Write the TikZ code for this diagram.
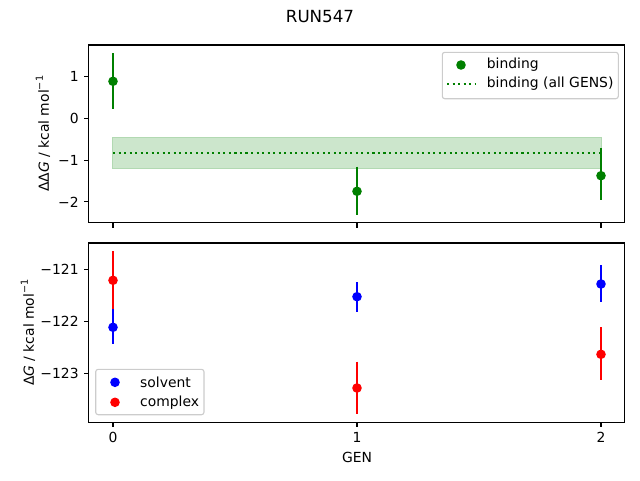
\documentclass[tikz,border=0pt]{standalone}
\usepackage{fontspec}
\setmainfont{DejaVu Sans}
\definecolor{mgreen}{RGB}{0,128,0}
\definecolor{mblue}{RGB}{0,0,255}
\definecolor{mred}{RGB}{255,0,0}
\definecolor{bandfill}{RGB}{204,230,204}
\definecolor{bandedge}{RGB}{178,217,178}
\definecolor{legedge}{RGB}{204,204,204}
\newcommand{\supmo}{\raisebox{0.42em}{\fontsize{9.7}{10}\selectfont −1}}
\tikzset{
  axframe/.style={line width=1.1pt, black},
  tickmark/.style={line width=1.1pt, black},
  ebar/.style={line width=2.08pt},
  dotmark/.style={circle, inner sep=0pt, minimum size=9.6pt},
  ylab/.style={anchor=east, inner sep=0pt},
  xlab/.style={anchor=north, inner sep=0pt},
  legbox/.style={fill=white, fill opacity=0.8, draw=legedge, draw opacity=1, line width=1.1pt, rounded corners=2.5pt},
  legtext/.style={anchor=west, inner sep=0pt},
}
\begin{document}
\begin{tikzpicture}[x=1pt, y=-1pt, font=\fontsize{13.9}{16}\selectfont]
\useasboundingbox (0,0) rectangle (640,480);

% title
\node[inner sep=0pt, font=\fontsize{16.7}{19}\selectfont] (title) at (320,17) {RUN547};

% ================= top axes =================
\fill[bandfill, draw=bandedge, line width=1pt] (112.7,137.3) rectangle (601.3,168.7);
\coordinate (m0) at (113,152.7);
\coordinate (m1) at (601,152.7);
\draw[mgreen, line width=2.08pt, dash pattern=on 2.08pt off 3.44pt] (m0) -- (m1);

\coordinate (g0t) at (113,53.3);  \coordinate (g0b) at (113,108.7);
\coordinate (g1t) at (357,166.7); \coordinate (g1b) at (357,214.7);
\coordinate (g2t) at (601,148.3); \coordinate (g2b) at (601,200.3);
\draw[ebar, mgreen] (g0t) -- (g0b);
\draw[ebar, mgreen] (g1t) -- (g1b);
\draw[ebar, mgreen] (g2t) -- (g2b);
\node[dotmark, fill=mgreen] (g0) at (113,81.3) {};
\node[dotmark, fill=mgreen] (g1) at (357,191.3) {};
\node[dotmark, fill=mgreen] (g2) at (601,175.7) {};

\draw[axframe] (88.5,45) rectangle (624.5,222.7);
\foreach \yy/\lab in {76.5/1, 118.3/0, 160.1/−1, 201.9/−2}{
  \draw[tickmark] (88.5,\yy) -- (83.6,\yy);
  \node[ylab] at (78.8,\yy) {\lab};
}
\foreach \xx in {113,357,601}{
  \draw[tickmark] (\xx,222.7) -- (\xx,227.6);
}
\node[rotate=90, inner sep=0pt] (ylabtop) at (43,133.8) {ΔΔ\textit{G} / kcal mol\supmo};

% legend
\draw[legbox] (442.3,52.3) rectangle (618.3,98.7);
\node[dotmark, fill=mgreen] (lg1) at (461,65) {};
\coordinate (ld0) at (447,84);
\coordinate (ld1) at (476,84);
\draw[mgreen, line width=2.08pt, dash pattern=on 2.08pt off 3.44pt] (ld0) -- (ld1);
\node[legtext] (lt1) at (486.7,65) {binding};
\node[legtext] (lt2) at (486.7,84) {binding (all GENS)};

% ================= bottom axes =================
\coordinate (s0t) at (113,309.3); \coordinate (s0b) at (113,344.3);
\coordinate (s1t) at (357,282);   \coordinate (s1b) at (357,312);
\coordinate (s2t) at (601,265);   \coordinate (s2b) at (601,301.7);
\coordinate (c0t) at (113,251);   \coordinate (c0b) at (113,309.3);
\coordinate (c1t) at (357,361.7); \coordinate (c1b) at (357,414);
\coordinate (c2t) at (601,327.3); \coordinate (c2b) at (601,380);
\draw[ebar, mblue] (s0t) -- (s0b);
\draw[ebar, mblue] (s1t) -- (s1b);
\draw[ebar, mblue] (s2t) -- (s2b);
\node[dotmark, fill=mblue] (s0) at (113,327.3) {};
\node[dotmark, fill=mblue] (s1) at (357,296.7) {};
\node[dotmark, fill=mblue] (s2) at (601,284) {};
\draw[ebar, mred] (c0t) -- (c0b);
\draw[ebar, mred] (c1t) -- (c1b);
\draw[ebar, mred] (c2t) -- (c2b);
\node[dotmark, fill=mred] (c0) at (113,280.3) {};
\node[dotmark, fill=mred] (c1) at (357,388) {};
\node[dotmark, fill=mred] (c2) at (601,354.3) {};

\draw[axframe] (88.5,243) rectangle (624.5,422.3);
\foreach \yy/\lab in {269.3/−121, 321.3/−122, 373.3/−123}{
  \draw[tickmark] (88.5,\yy) -- (83.6,\yy);
  \node[ylab] at (78.8,\yy) {\lab};
}
\foreach \xx/\lab in {113/0, 357/1, 601/2}{
  \draw[tickmark] (\xx,422.3) -- (\xx,427.2);
  \node[xlab] at (\xx,432) {\lab};
}
\node[inner sep=0pt] (xlabel) at (357,457) {GEN};
\node[rotate=90, inner sep=0pt] (ylabbot) at (28,332.7) {Δ\textit{G} / kcal mol\supmo};

% legend
\draw[legbox] (95.7,369.3) rectangle (204,414.7);
\node[dotmark, fill=mblue] (ls1) at (115,382.3) {};
\node[dotmark, fill=mred] (ls2) at (115,402.3) {};
\node[legtext] (lst1) at (140,382.3) {solvent};
\node[legtext] (lst2) at (140,402.3) {complex};

\end{tikzpicture}
\end{document}
